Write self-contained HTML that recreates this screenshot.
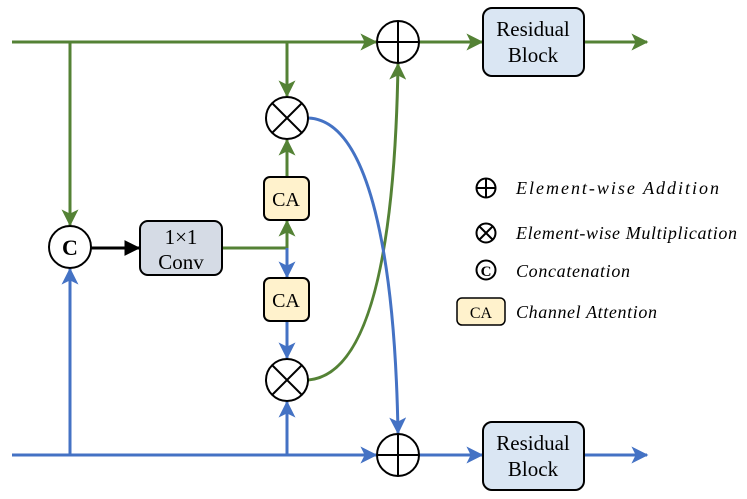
<!DOCTYPE html>
<html><head><meta charset="utf-8"><style>
html,body{margin:0;padding:0;background:#fff;}
svg{display:block;}
text{font-family:"Liberation Serif",serif;}
</style></head><body>
<svg width="747" height="499" viewBox="0 0 747 499" xmlns="http://www.w3.org/2000/svg">
<defs>
<marker id="ag" viewBox="0 0 12 12" refX="11" refY="6" markerWidth="17" markerHeight="17" markerUnits="userSpaceOnUse" orient="auto"><path d="M0,0 L12,6 L0,12 L3,6 Z" fill="#548235"/></marker>
<marker id="ab" viewBox="0 0 12 12" refX="11" refY="6" markerWidth="17" markerHeight="17" markerUnits="userSpaceOnUse" orient="auto"><path d="M0,0 L12,6 L0,12 L3,6 Z" fill="#4472c4"/></marker>
<marker id="ak" viewBox="0 0 12 12" refX="11" refY="6" markerWidth="16" markerHeight="16" markerUnits="userSpaceOnUse" orient="auto"><path d="M0,0 L12,6 L0,12 Z" fill="#000"/></marker>
</defs>
<g fill="none" stroke-width="3">
<g stroke="#548235">
<line x1="12" y1="42" x2="376" y2="42" marker-end="url(#ag)"/>
<line x1="70" y1="42" x2="70" y2="225" marker-end="url(#ag)"/>
<line x1="287" y1="42" x2="287" y2="96" marker-end="url(#ag)"/>
<line x1="419" y1="42" x2="482" y2="42" marker-end="url(#ag)"/>
<line x1="585" y1="42" x2="647" y2="42" marker-end="url(#ag)"/>
<polyline points="222,248 287,248 287,221" marker-end="url(#ag)"/>
<line x1="287" y1="177" x2="287" y2="140" marker-end="url(#ag)"/>
<path d="M308,380 C370,375 395,250 398,64" marker-end="url(#ag)"/>
</g>
<g stroke="#4472c4">
<line x1="12" y1="455" x2="376" y2="455" marker-end="url(#ab)"/>
<line x1="70" y1="455" x2="70" y2="269" marker-end="url(#ab)"/>
<line x1="287" y1="455" x2="287" y2="402" marker-end="url(#ab)"/>
<line x1="419" y1="455" x2="482" y2="455" marker-end="url(#ab)"/>
<line x1="585" y1="455" x2="647" y2="455" marker-end="url(#ab)"/>
<line x1="287" y1="248" x2="287" y2="277" marker-end="url(#ab)"/>
<line x1="287" y1="321" x2="287" y2="358" marker-end="url(#ab)"/>
<path d="M308,118 C370,120 395,260 398,433" marker-end="url(#ab)"/>
</g>
<line x1="91" y1="248" x2="139" y2="248" stroke="#000" marker-end="url(#ak)"/>
</g>
<g stroke="#000" stroke-width="2">
<rect x="483" y="8" width="101" height="68" rx="9" fill="#dae6f3"/>
<rect x="483" y="422" width="101" height="68" rx="9" fill="#dae6f3"/>
<rect x="140" y="221" width="82" height="54" rx="8" fill="#d5dbe5"/>
<rect x="264" y="177" width="45" height="43" rx="6" fill="#fff2cc"/>
<rect x="264" y="278" width="45" height="43" rx="6" fill="#fff2cc"/>
<rect x="457" y="298" width="48" height="27" rx="5" fill="#fff2cc" stroke-width="1.5"/>
</g>
<g stroke="#000" stroke-width="2" fill="#fff">
<circle cx="398" cy="42" r="21"/><path d="M377,42 H419 M398,21 V63"/>
<circle cx="398" cy="455" r="21"/><path d="M377,455 H419 M398,434 V476"/>
<circle cx="287" cy="118" r="21"/><path d="M272,103 L302,133 M302,103 L272,133"/>
<circle cx="287" cy="380" r="21"/><path d="M272,365 L302,395 M302,365 L272,395"/>
<circle cx="70" cy="247" r="21"/>
<circle cx="486" cy="188" r="9.5"/><path d="M476.5,188 H495.5 M486,178.5 V197.5"/>
<circle cx="486" cy="233" r="9.5"/><path d="M479,226 L493,240 M493,226 L479,240"/>
<circle cx="486" cy="270" r="9.5"/>
</g>
<g text-anchor="middle" font-size="21" fill="#000">
<text x="533" y="36">Residual</text><text x="533" y="62">Block</text>
<text x="533" y="450">Residual</text><text x="533" y="476">Block</text>
<text x="181" y="244">1×1</text><text x="181" y="269">Conv</text>
<text x="286" y="206" font-size="20">CA</text><text x="286" y="307" font-size="20">CA</text>
<text x="481" y="318" font-size="16">CA</text>
<text x="70" y="255" font-size="22" font-weight="bold">C</text>
<text x="486" y="276" font-size="15" font-weight="bold">C</text>
</g>
<g font-size="18" font-style="italic" fill="#000">
<text x="516" y="194" textLength="203">Element-wise Addition</text>
<text x="516" y="239" textLength="221">Element-wise Multiplication</text>
<text x="516" y="277" textLength="114">Concatenation</text>
<text x="516" y="318" textLength="141">Channel Attention</text>
</g>
</svg>
</body></html>
